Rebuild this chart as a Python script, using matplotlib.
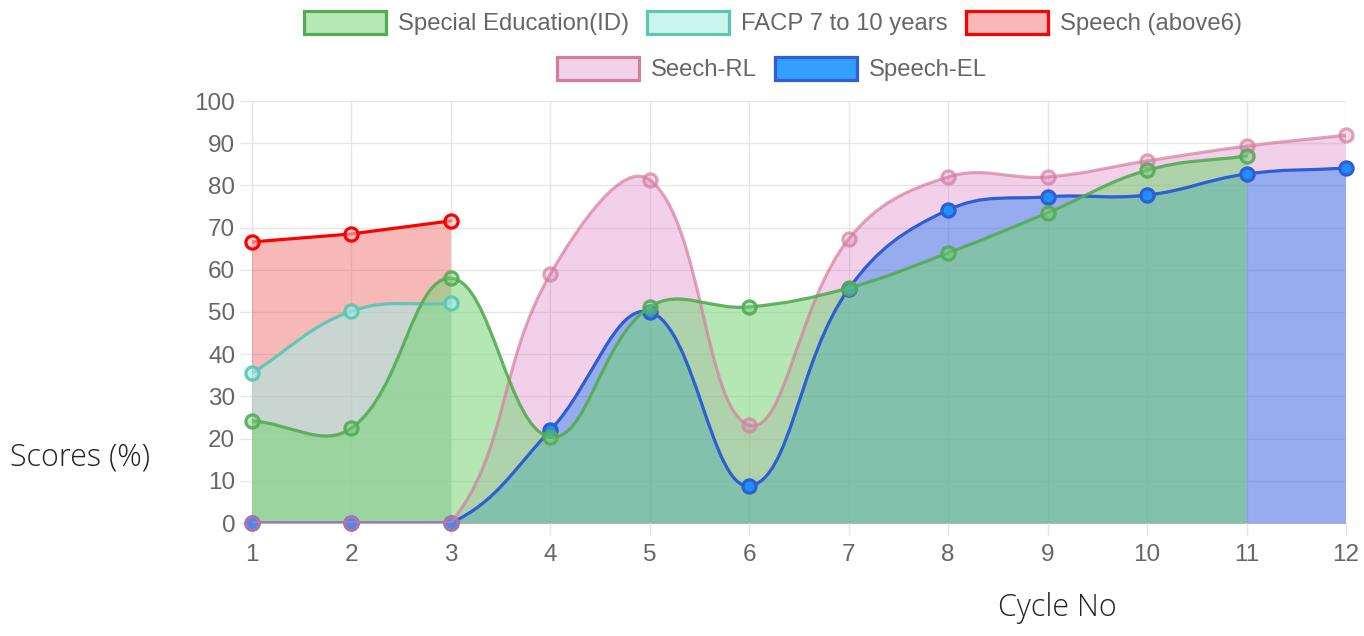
import numpy as np
import matplotlib
matplotlib.use("Agg")
import matplotlib.pyplot as plt
from matplotlib.path import Path
from matplotlib.patches import PathPatch, Patch

# data
cycles = list(range(1, 13))
special_ed = [24.2, 22.5, 58.0, 20.4, 51.2, 51.2, 55.7, 64.0, 73.5, 83.6, 87.0]
facp = [35.5, 50.2, 52.1]
speech_above6 = [66.6, 68.5, 71.6]
speech_rl = [0, 0, 0, 59.0, 81.3, 23.2, 67.3, 82.0, 82.0, 85.8, 89.3, 91.9]
speech_el = [0, 0, 0, 22.0, 50.0, 8.8, 55.5, 74.2, 77.3, 77.7, 82.7, 84.1]

names = ["Special Education(ID)", "FACP 7 to 10 years", "Speech (above6)", "Seech-RL", "Speech-EL"]
series = [special_ed, facp, speech_above6, speech_rl, speech_el]
tensions = [0.4, 0.4, 0.0, 0.4, 0.4]
# fill target: None = down to zero, otherwise index of the dataset to fill to
fill_to = [None, None, None, 4, None]
line_colors = [(0.33, 0.67, 0.33, 0.9), (0.36, 0.78, 0.71, 0.95), (1.0, 0.0, 0.0, 1.0),
               (0.84, 0.49, 0.62, 0.7), (0.18, 0.37, 0.82, 1.0)]
fill_colors = [(117 / 255, 212 / 255, 117 / 255, 0.54), (164 / 255, 237 / 255, 228 / 255, 0.55),
               (235 / 255, 78 / 255, 78 / 255, 0.40), (212 / 255, 102 / 255, 185 / 255, 0.30),
               (65 / 255, 105 / 255, 225 / 255, 0.55)]
marker_faces = [(0.45, 0.80, 0.45, 0.45), (0.65, 0.93, 0.90, 0.6), (1.0, 0.75, 0.75, 0.6),
                (0.85, 0.45, 0.70, 0.25), (0.12, 0.56, 1.0, 1.0)]
legend_faces = ["#b5e8b5", "#cdf5f0", "#f7b8b8", "#f2d1ea", "#33a0ff"]
legend_edges = ["#55aa55", "#5cc8b4", "#ff0000", "#d57d9f", "#2f5fd0"]

# pixel scale of the plot area, used for the spline control points
SX, SY = 99.45, 4.22
YMIN, YMAX = 0, 100


def spline_path(xs, ys, t):
    px = np.array(xs, float) * SX
    py = np.array(ys, float) * SY
    n = len(px)
    cprev, cnext = [], []
    for i in range(n):
        a = max(i - 1, 0)
        b = min(i + 1, n - 1)
        d01 = np.hypot(px[i] - px[a], py[i] - py[a])
        d12 = np.hypot(px[b] - px[i], py[b] - py[i])
        tot = d01 + d12
        s01 = d01 / tot if tot else 0
        s12 = d12 / tot if tot else 0
        fa, fb = t * s01, t * s12
        dx, dy = px[b] - px[a], py[b] - py[a]
        cp = [px[i] - fa * dx, py[i] - fa * dy]
        cn = [px[i] + fb * dx, py[i] + fb * dy]
        for c in (cp, cn):
            c[0] = min(max(c[0], 1 * SX), 12 * SX)
            c[1] = min(max(c[1], YMIN * SY), YMAX * SY)
        cprev.append(cp)
        cnext.append(cn)
    verts = [(px[0] / SX, py[0] / SY)]
    codes = [Path.MOVETO]
    for i in range(n - 1):
        verts += [(cnext[i][0] / SX, cnext[i][1] / SY),
                  (cprev[i + 1][0] / SX, cprev[i + 1][1] / SY),
                  (px[i + 1] / SX, py[i + 1] / SY)]
        codes += [Path.CURVE4] * 3
    return verts, codes


fig = plt.figure(figsize=(13.64, 6.36), dpi=100)
ax = fig.add_axes([252 / 1364, 113 / 636, 1094 / 1364, 422 / 636])

paths = {}
for k in range(len(series)):
    ys = series[k]
    paths[k] = spline_path(cycles[:len(ys)], ys, tensions[k])

# fills first (last dataset at the bottom), then lines and points on top
for k in range(len(series) - 1, -1, -1):
    ys = series[k]
    xs = cycles[:len(ys)]
    verts, codes = paths[k]
    if fill_to[k] is None:
        fv = verts + [(xs[-1], 0), (xs[0], 0), verts[0]]
        fc = codes + [Path.LINETO, Path.LINETO, Path.CLOSEPOLY]
    else:
        ov, oc = paths[fill_to[k]]
        fv = verts + ov[::-1] + [verts[0]]
        fc = codes + [Path.LINETO] + oc[1:] + [Path.CLOSEPOLY]
    ax.add_patch(PathPatch(Path(fv, fc), facecolor=fill_colors[k], edgecolor="none", zorder=2 + (4 - k) * 0.1))

for k in range(len(series) - 1, -1, -1):
    ys = series[k]
    xs = cycles[:len(ys)]
    z = 10 - k
    verts, codes = paths[k]
    ax.add_patch(PathPatch(Path(verts, codes), facecolor="none", edgecolor=line_colors[k],
                           lw=2.3, zorder=z, capstyle="round", joinstyle="round"))
    ax.plot(xs, ys, "o", ms=9.5, mfc=marker_faces[k], mec=line_colors[k], mew=2.3,
            zorder=z + 0.1, clip_on=False)

ax.set_xlim(1, 12)
ax.set_ylim(0, 100)
ax.set_xticks(cycles)
ax.set_yticks(range(0, 101, 10))
ax.grid(True, color="#e6e6e6", lw=1)
ax.set_axisbelow(True)
for s in ("top", "right"):
    ax.spines[s].set_visible(False)
for s in ("left", "bottom"):
    ax.spines[s].set_color("#b5b5b5")
    ax.spines[s].set_zorder(0.5)
ax.tick_params(axis="both", colors="#e6e6e6", labelcolor="#666666", labelsize=17.5,
               length=9, width=1)
ax.tick_params(axis="x", pad=6)
ax.tick_params(axis="y", pad=3)
for lab in ax.get_xticklabels() + ax.get_yticklabels():
    lab.set_fontfamily("Liberation Sans")

ax.set_ylabel("Scores (%)", rotation=0, fontsize=22, fontfamily="Open Sans",
              fontweight="light", color="#222222", ha="left", va="center")
ax.yaxis.set_label_coords(-0.221, 0.156)
ax.set_xlabel("Cycle No", fontsize=22, fontfamily="Open Sans",
              fontweight="light", color="#222222", ha="center", va="center")
ax.xaxis.set_label_coords(0.736, -0.201)

handles = [Patch(facecolor=legend_faces[k], edgecolor=legend_edges[k], lw=2.3) for k in range(5)]
leg_kw = dict(frameon=False, handlelength=3.43, handleheight=1.1,
              handletextpad=0.5, columnspacing=0.75, labelcolor="#666666",
              prop={"family": "Liberation Sans", "size": 17.2})
leg1 = fig.legend(handles[:3], names[:3], loc="center", ncol=3,
                  bbox_to_anchor=(773 / 1364, 1 - 23 / 636), **leg_kw)
leg2 = fig.legend(handles[3:], names[3:], loc="center", ncol=2,
                  bbox_to_anchor=(772 / 1364, 1 - 69 / 636), **leg_kw)

fig.savefig("out.png", dpi=100)
